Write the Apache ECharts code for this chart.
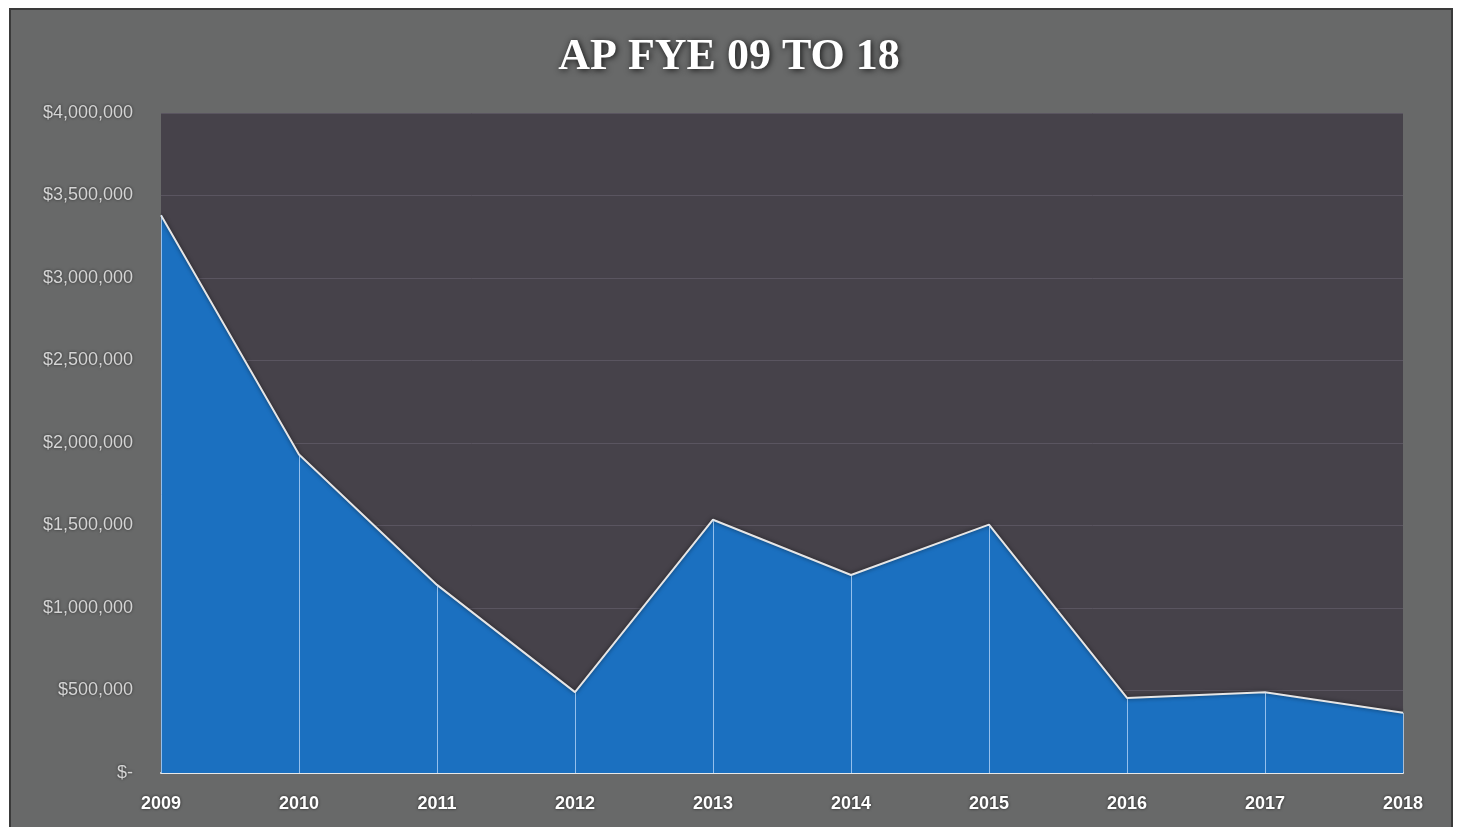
<!DOCTYPE html>
<html><head><meta charset="utf-8">
<script src="https://cdn.jsdelivr.net/npm/echarts@6/dist/echarts.min.js"></script>
<style>html,body{margin:0;padding:0;background:#fff;}#c{width:1458px;height:827px;}</style>
</head><body><div id="c"></div>
<script>
const categories = ['2009','2010','2011','2012','2013','2014','2015','2016','2017','2018'];
const apValues = [3380000, 1930000, 1140000, 490000, 1535000, 1200000, 1505000, 455000, 490000, 365000];
const yTicks = [0, 500000, 1000000, 1500000, 2000000, 2500000, 3000000, 3500000, 4000000];

const chart = echarts.init(document.getElementById('c'));
function fmt(v){ return v === 0 ? '$-' : '$' + v.toLocaleString('en-US'); }
chart.setOption({
  backgroundColor: '#ffffff',
  graphic: [{
    type: 'rect', z: -10, silent: true,
    shape: {x: 10, y: 9, width: 1442, height: 830},
    style: {fill: '#686969', stroke: '#3a3a3a', lineWidth: 2}
  }],
  title: {
    text: 'AP FYE 09 TO 18', left: 'center', top: 31,
    textStyle: {color: '#ffffff', fontFamily: 'Liberation Serif', fontWeight: 'bold', fontSize: 44,
      textShadowColor: 'rgba(0,0,0,0.85)', textShadowBlur: 6, textShadowOffsetX: 1, textShadowOffsetY: 1}
  },
  grid: {left: 161, right: 55, top: 113, bottom: 54, show: true, backgroundColor: '#46424a', borderWidth: 0},
  xAxis: {
    type: 'category', data: categories, boundaryGap: false,
    axisLine: {lineStyle: {color: '#e8e8e8', width: 2}},
    axisTick: {show: false},
    axisLabel: {color: '#ffffff', fontFamily: 'Liberation Sans', fontWeight: 'bold', fontSize: 18, margin: 22,
      textShadowColor: 'rgba(0,0,0,0.7)', textShadowBlur: 3},
    splitLine: {show: false}
  },
  yAxis: {
    type: 'value', min: 0, max: 4000000, interval: 500000,
    axisLine: {show: false}, axisTick: {show: false},
    axisLabel: {color: '#d4d4d4', fontFamily: 'Liberation Sans', fontSize: 18, margin: 28,
      formatter: v => yTicks.includes(v) ? fmt(v) : '',
      textShadowColor: 'rgba(0,0,0,0.6)', textShadowBlur: 3},
    splitLine: {lineStyle: {color: '#5a5560', width: 1}}
  },
  series: [{
    type: 'line', data: apValues, symbol: 'none',
    lineStyle: {color: '#e6e6e6', width: 2, shadowColor: 'rgba(0,0,0,0.6)', shadowBlur: 4},
    areaStyle: {color: '#1b70c0', opacity: 1},
    markLine: {
      silent: true, symbol: 'none', label: {show: false},
      lineStyle: {color: 'rgba(200,225,255,0.7)', width: 1, type: 'solid'},
      data: apValues.map((v, i) => [{coord: [i, 0]}, {coord: [i, v]}])
    }
  }]
});
</script></body></html>
